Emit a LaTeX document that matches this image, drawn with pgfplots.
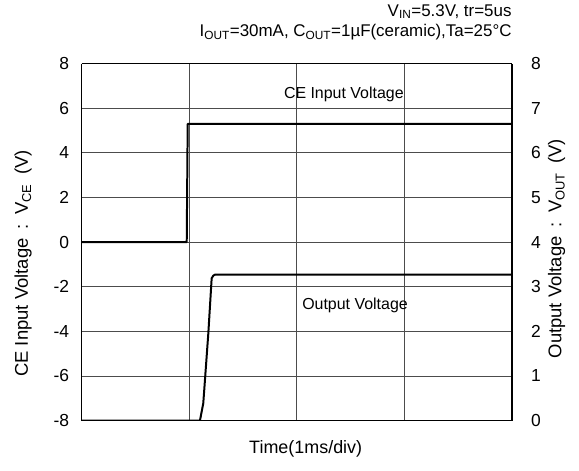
\documentclass[border=0pt]{standalone}
\usepackage{fontspec}
\setmainfont{Liberation Sans}
\usepackage{pgfplots}
\pgfplotsset{compat=1.18}
\begin{document}
\begin{tikzpicture}[font=\fontsize{16}{19}\selectfont]
\begin{axis}[
  at={(0,0)}, anchor=south west,
  scale only axis, width=430bp, height=357bp,
  xmin=0, xmax=4, ymin=-8, ymax=8,
  xtick={0,1,2,3,4}, xticklabels={},
  ytick={-8,-6,...,8},
  grid=major, grid style={line width=0.9pt, black!70},
  major tick length=0pt,
  axis line style={line width=1.6pt},
  axis y line*=left, axis x line*=box,
  /pgf/number format/assume math mode=true,
  yticklabel style={anchor=east, xshift=-9bp, font=\fontsize{17.5}{20}\selectfont},
  clip=false,
]
\addplot[line width=2pt, black, line join=round] coordinates {
 (0,0) (0.977,0) (0.986,5.3) (4,5.3)};
\node[anchor=west, inner sep=0] at (axis cs:1.88,6.6) {CE Input Voltage};
\node[anchor=west, inner sep=0] at (axis cs:2.05,-2.85) {Output Voltage};
\end{axis}
\begin{axis}[
  at={(0,0)}, anchor=south west,
  scale only axis, width=430bp, height=357bp,
  xmin=0, xmax=4, ymin=0, ymax=8,
  ytick={0,1,...,8},
  hide x axis,
  axis y line*=right,
  major tick length=0pt,
  axis line style={line width=1.6pt},
  /pgf/number format/assume math mode=true,
  yticklabel style={anchor=west, xshift=16bp, font=\fontsize{17.5}{20}\selectfont},
]
\addplot[line width=2pt, black, line join=round] coordinates {
 (0,0) (1.10,0) (1.131,0.39) (1.178,1.96) (1.209,3.19) (1.225,3.25) (1.24,3.27) (4,3.27)};
\end{axis}
\begin{scope}[font=\fontsize{17}{20}\selectfont]
\node[anchor=east, inner sep=0] at (430bp,409bp) {V\textsubscript{IN}=5.3V, tr=5us};
\node[anchor=east, inner sep=0] at (430bp,388bp) {I\textsubscript{OUT}=30mA, C\textsubscript{OUT}=1µF(ceramic),Ta=25°C};
\end{scope}
\begin{scope}[font=\fontsize{18.5}{21}\selectfont]
\node[rotate=90, inner sep=0] at (-58.5bp,157bp) {CE Input Voltage\enspace:\enspace V\textsubscript{CE}\enspace(V)};
\node[rotate=90, inner sep=0] at (475bp,172bp) {Output Voltage\enspace:\enspace V\textsubscript{OUT}\enspace(V)};
\end{scope}
\node[inner sep=0] at (224bp,-28bp) {\fontsize{18}{21}\selectfont Time(1ms/div)};
\path[use as bounding box] (-81.7bp,-50.4bp) rectangle (497.3bp,420.6bp);
\end{tikzpicture}
\end{document}
